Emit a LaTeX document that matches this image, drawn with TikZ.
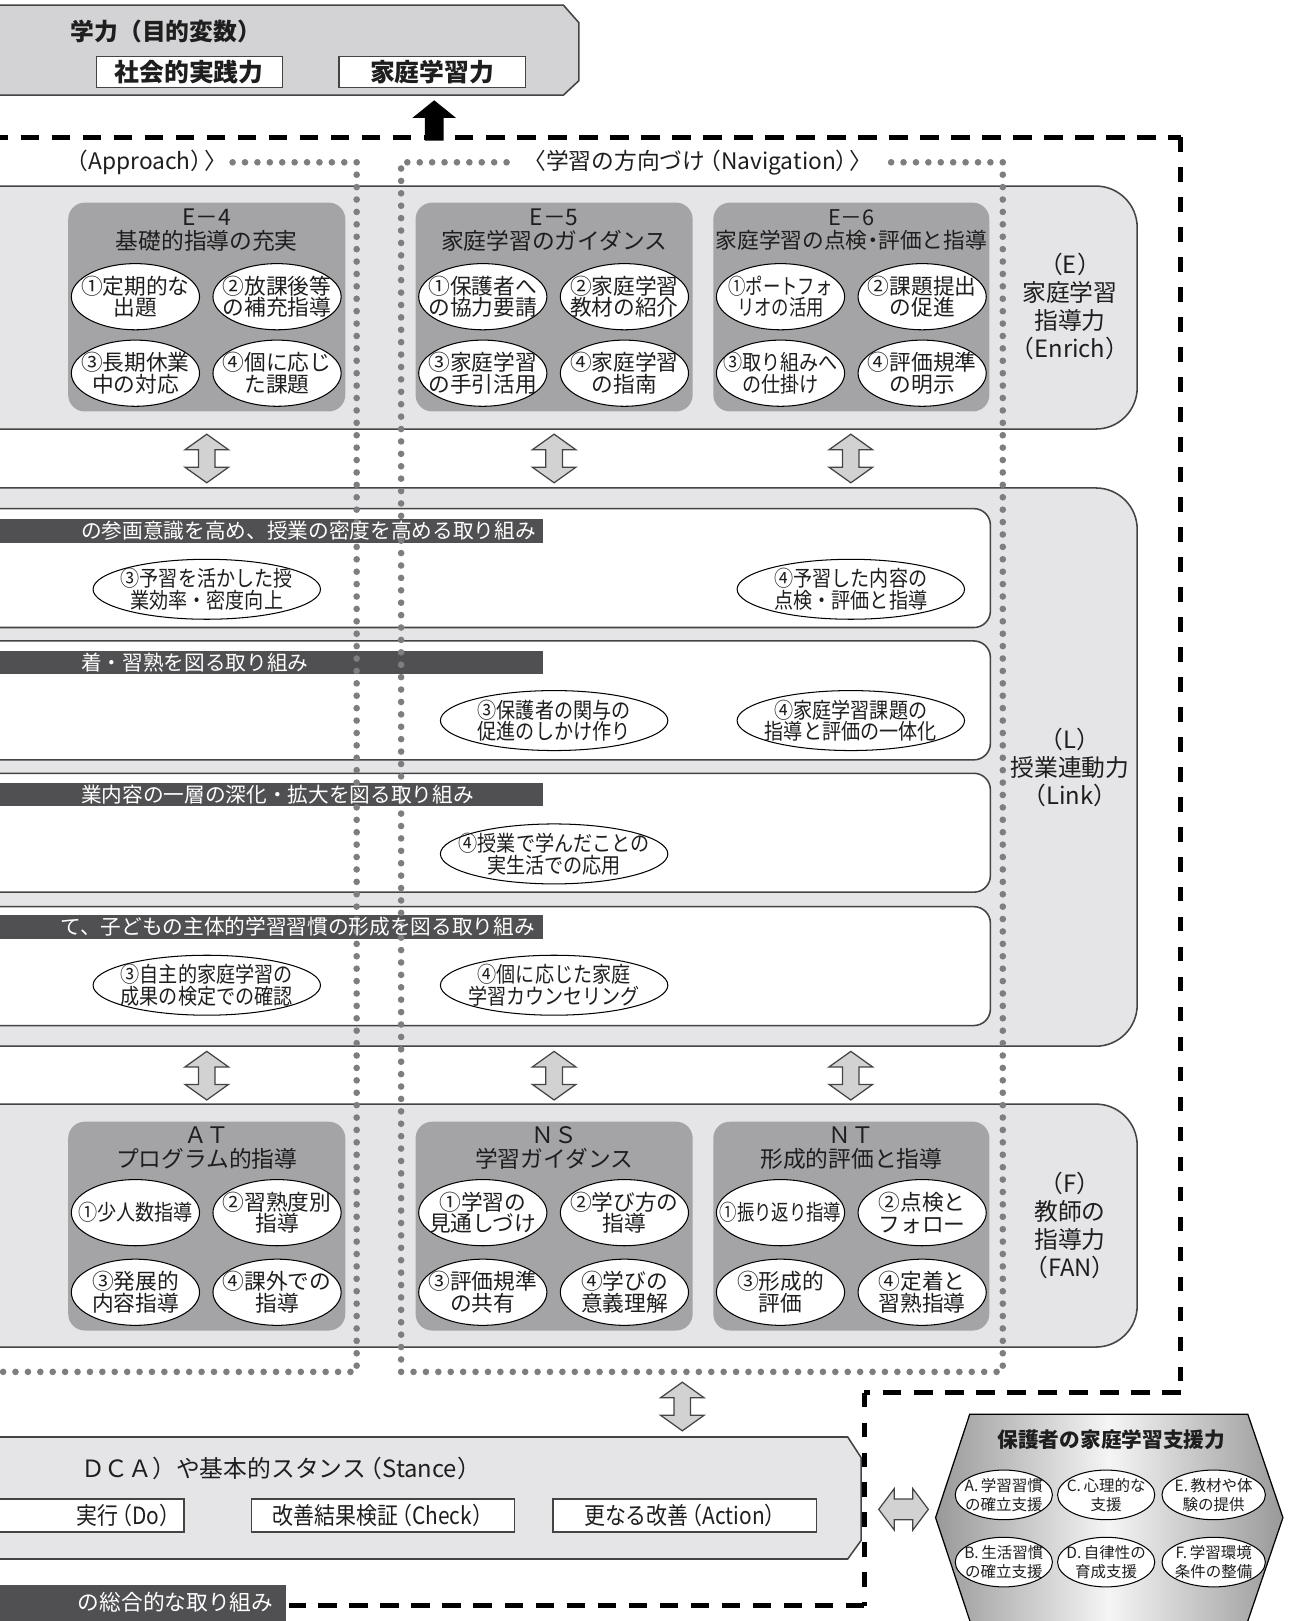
\documentclass[tikz,border=0pt]{standalone}
\usepackage{fontspec}
\setmainfont{Noto Sans CJK JP}
\newfontfamily\cond[FakeStretch=0.88]{Noto Sans CJK JP}
\newfontfamily\condb[FakeStretch=0.8]{Noto Sans CJK JP}
\usetikzlibrary{shapes.geometric}
\definecolor{panel}{HTML}{E5E5E7}
\definecolor{topfill}{HTML}{D3D3D5}
\definecolor{inner}{HTML}{A4A4A7}
\definecolor{barc}{HTML}{505052}
\definecolor{dotc}{HTML}{7E7E80}
\definecolor{edge}{HTML}{444444}
\definecolor{arrfill}{HTML}{D2D2D2}
\definecolor{txt}{HTML}{1E1E1E}
\tikzset{
 panelbox/.style={draw=edge, line width=0.75pt, fill=panel, rounded corners=20pt},
 innerbox/.style={fill=inner, rounded corners=8pt},
 whitebox/.style={draw=edge, line width=0.75pt, fill=white, rounded corners=8pt},
 ell/.style={ellipse, draw=black, line width=0.5pt, fill=white, inner xsep=-14pt, inner ysep=-12pt, minimum width=62pt, minimum height=32pt, align=center, font=\fontsize{10.5}{10.5}\selectfont, text=txt},
 lell/.style={ell, minimum width=110pt, minimum height=29pt, font=\cond\fontsize{10.5}{10.5}\selectfont},
 hell/.style={ell, minimum width=47pt, minimum height=24pt, font=\fontsize{7.5}{9}\selectfont},
 ttl/.style={align=center, font=\fontsize{11}{11.5}\selectfont, text=txt, inner sep=0pt},
 lab/.style={align=center, font=\fontsize{11.5}{13.5}\selectfont, text=txt, inner sep=0pt},
 bartext/.style={anchor=west, text=white, font=\fontsize{10}{10}\selectfont, inner sep=0pt},
 darr/.style={draw=edge, fill=arrfill, line width=0.6pt, line join=miter},
 dots/.style={draw=dotc, line width=3.2pt, line cap=round, dash pattern=on 0pt off 6pt},
 hdash/.style={draw=black, line width=2.6pt, dash pattern=on 9pt off 6pt},
 vdash/.style={draw=black, line width=2.6pt, dash pattern=on 7pt off 7.5pt},
 wbox/.style={draw=edge, fill=white, line width=0.6pt, inner sep=0pt, minimum height=15pt, text=txt},
 plain/.style={text=txt, inner sep=0pt}
}
\newcommand\vda[1]{\draw[darr] (#1) ++(0,-23.5) -- ++(21,15) -- ++(-13,0) -- ++(0,17) -- ++(13,0) -- ++(-21,15) -- ++(-21,-15) -- ++(13,0) -- ++(0,-17) -- ++(-13,0) -- cycle;}
\newcommand\hda[1]{\draw[darr] (#1) ++(-24,0) -- ++(15,-20) -- ++(0,10) -- ++(18,0) -- ++(0,-10) -- ++(15,20) -- ++(-15,20) -- ++(0,-10) -- ++(-18,0) -- ++(0,10) -- cycle;}
\begin{document}
\begin{tikzpicture}[x=0.5pt,y=-0.5pt]
\useasboundingbox (0,0) rectangle (1247,1568);
\clip (0,0) rectangle (1247,1568);
\fill[white] (0,0) rectangle (1247,1568);

% top box
\draw[draw=edge, line width=0.75pt, fill=topfill] (-20,5) -- (545,5) -- (560,22) -- (560,78) -- (545,92) -- (-20,92) -- cycle;
\node[plain, anchor=west, font=\bfseries\fontsize{11.5}{12}\selectfont] (gakuryoku) at (68,30) {学力（目的変数）};
\node[wbox, minimum width=90pt, font=\bfseries\fontsize{12}{12}\selectfont] (shakai) at (183,70) {社会的実践力};
\node[wbox, minimum width=90pt, font=\bfseries\fontsize{12}{12}\selectfont] (katei) at (418,70) {家庭学習力};

% dashed frame
\draw[hdash] (-10,133) -- (1142,133);
\draw[vdash] (1142,133) -- (1142,1347);
\draw[hdash] (1142,1347) -- (836,1347);
\draw[vdash] (836,1347) -- (836,1553);
\draw[hdash] (836,1553) -- (280,1553);

% black arrow
\fill[black] (420,97) -- (441,114) -- (429,114) -- (429,136) -- (411,136) -- (411,114) -- (399,114) -- cycle;

% panels
\draw[panelbox] (-40,180) rectangle (1100,415);
\draw[panelbox] (-40,472) rectangle (1100,1012);
\draw[panelbox] (-40,1068) rectangle (1100,1303);

% inner boxes E
\fill[innerbox] (66,196) rectangle (334,398);
\fill[innerbox] (402,196) rectangle (670,398);
\fill[innerbox] (690,196) rectangle (957,398);
% inner boxes F
\fill[innerbox] (66,1085) rectangle (334,1287);
\fill[innerbox] (402,1085) rectangle (670,1287);
\fill[innerbox] (690,1085) rectangle (957,1287);

% L white boxes and bars
\draw[whitebox] (-40,492) rectangle (958,607);
\draw[whitebox] (-40,620) rectangle (958,735);
\draw[whitebox] (-40,748) rectangle (958,863);
\draw[whitebox] (-40,877) rectangle (958,992);
\fill[barc] (-10,502) rectangle (525,525);
\fill[barc] (-10,630) rectangle (525,652);
\fill[barc] (-10,757) rectangle (525,780);
\fill[barc] (-10,885) rectangle (525,908);

% dotted lines
\draw[dots] (225,157) -- (345,157) -- (345,1327) -- (-10,1327);
\draw[dots] (490,157) -- (388,157) -- (388,1327) -- (970,1327) -- (970,157) -- (860,157);
\node[plain, anchor=east, font=\fontsize{11}{11}\selectfont] (appr) at (220,157) {（Approach）{\kern-0.4em}〉};
\node[plain, font=\fontsize{11}{11}\selectfont] (navi) at (675,157) {〈学習の方向づけ{\kern-0.3em}（Navigation）{\kern-0.4em}〉};

% bar texts
\node[bartext] (b1) at (78,513.5) {の参画意識を高め、授業の密度を高める取り組み};
\node[bartext] (b2) at (78,641) {着・習熟を図る取り組み};
\node[bartext] (b3) at (78,768.5) {業内容の一層の深化・拡大を図る取り組み};
\node[bartext] (b4) at (58,896.5) {て、子どもの主体的学習習慣の形成を図る取り組み};

% E titles
\node[ttl] (e4t) at (200,222.5) {E－4\\基礎的指導の充実};
\node[ttl] (e5t) at (536,222.5) {E－5\\家庭学習のガイダンス};
\node[ttl, font=\fontsize{10.5}{11.5}\selectfont] (e6t) at (823.5,222.5) {E－6\\家庭学習の点検{\kern-0.25em}・{\kern-0.25em}評価と指導};

% E ellipses
\node[ell] (e41) at (131,287) {①定期的な\\出題};
\node[ell] (e42) at (268,287) {②放課後等\\の補充指導};
\node[ell] (e43) at (131,361) {③長期休業\\中の対応};
\node[ell] (e44) at (268,361) {④個に応じ\\た課題};
\node[ell] (e51) at (467,287) {①保護者へ\\の協力要請};
\node[ell] (e52) at (604,287) {②家庭学習\\教材の紹介};
\node[ell] (e53) at (467,361) {③家庭学習\\の手引活用};
\node[ell] (e54) at (604,361) {④家庭学習\\の指南};
\node[ell, font=\condb\fontsize{10.5}{10.5}\selectfont] (e61) at (755,287) {①ポートフォ\\リオの活用};
\node[ell] (e62) at (892,287) {②課題提出\\の促進};
\node[ell, font=\cond\fontsize{10.5}{10.5}\selectfont] (e63) at (755,361) {③取り組みへ\\の仕掛け};
\node[ell] (e64) at (892,361) {④評価規準\\の明示};

% F titles
\node[ttl] (att) at (200,1110.5) {ＡＴ\\プログラム的指導};
\node[ttl] (nst) at (536,1110.5) {ＮＳ\\学習ガイダンス};
\node[ttl] (ntt) at (823.5,1110.5) {ＮＴ\\形成的評価と指導};

% F ellipses
\node[ell, font=\cond\fontsize{10.5}{10.5}\selectfont] (at1) at (131,1173) {①少人数指導};
\node[ell] (at2) at (268,1173) {②習熟度別\\指導};
\node[ell] (at3) at (131,1250) {③発展的\\内容指導};
\node[ell] (at4) at (268,1250) {④課外での\\指導};
\node[ell] (ns1) at (467,1173) {①学習の\\見通しづけ};
\node[ell] (ns2) at (604,1173) {②学び方の\\指導};
\node[ell] (ns3) at (467,1250) {③評価規準\\の共有};
\node[ell] (ns4) at (604,1250) {④学びの\\意義理解};
\node[ell, font=\condb\fontsize{10.5}{10.5}\selectfont] (nt1) at (755,1173) {①振り返り指導};
\node[ell] (nt2) at (892,1173) {②点検と\\フォロー};
\node[ell] (nt3) at (755,1250) {③形成的\\評価};
\node[ell] (nt4) at (892,1250) {④定着と\\習熟指導};

% L ellipses
\node[lell] (l13) at (200,570) {③予習を活かした授\\業効率・密度向上};
\node[lell] (l14) at (823,570) {④予習した内容の\\点検・評価と指導};
\node[lell] (l23) at (536,697) {③保護者の関与の\\促進のしかけ作り};
\node[lell] (l24) at (823,697) {④家庭学習課題の\\指導と評価の一体化};
\node[lell] (l34) at (536,826) {④授業で学んだことの\\実生活での応用};
\node[lell] (l43) at (200,953) {③自主的家庭学習の\\成果の検定での確認};
\node[lell] (l44) at (536,953) {④個に応じた家庭\\学習カウンセリング};

% right labels
\node[lab] (elab) at (1035,296.5) {（E）\\家庭学習\\指導力\\（Enrich）};
\node[lab] (llab) at (1035,742) {（L）\\授業連動力\\（Link）};
\node[lab] (flab) at (1035,1185.5) {（F）\\教師の\\指導力\\（FAN）};

% double arrows
\coordinate (da1) at (200,443.5);
\coordinate (da2) at (536,443.5);
\coordinate (da3) at (823,443.5);
\coordinate (da4) at (200,1040.5);
\coordinate (da5) at (536,1040.5);
\coordinate (da6) at (823,1040.5);
\coordinate (da7) at (660,1360.5);
\coordinate (da8) at (874,1460);
\vda{da1}\vda{da2}\vda{da3}\vda{da4}\vda{da5}\vda{da6}\vda{da7}
\hda{da8}

% stance box
\draw[draw=edge, line width=0.75pt, fill=panel] (-20,1390) -- (820,1390) -- (833,1410) -- (833,1490) -- (820,1508) -- (-20,1508) -- cycle;
\node[plain, anchor=west, font=\fontsize{11.5}{12}\selectfont] (stance) at (78,1420) {ＤＣＡ）や基本的スタンス{\kern-0.3em}（Stance）};
\draw[draw=edge, fill=white, line width=0.6pt] (-20,1450) rectangle (178,1482);
\node[plain, anchor=east, font=\cond\fontsize{11.5}{12}\selectfont] (do) at (175,1466) {実行{\kern-0.3em}（Do）};
\node[wbox, minimum width=127.5pt, minimum height=16pt, font=\cond\fontsize{11.5}{12}\selectfont] (check) at (370.5,1466) {改善結果検証{\kern-0.3em}（Check）};
\node[wbox, minimum width=127.5pt, minimum height=16pt, font=\cond\fontsize{11.5}{12}\selectfont] (action) at (662.5,1466) {更なる改善{\kern-0.3em}（Action）};

% bottom bar
\fill[barc] (-10,1533) rectangle (277,1590);
\node[bartext, font=\fontsize{10.5}{10.5}\selectfont] (sogo) at (75,1550) {の総合的な取り組み};

% hexagon
\draw[draw=black, line width=0.6pt, left color=gray!80, right color=gray!80, middle color=gray!8]
  (938,1368) -- (1207,1368) -- (1241,1468) -- (1199.5,1590) -- (945.5,1590) -- (905,1468) -- cycle;
\node[plain, font=\bfseries\fontsize{10}{10}\selectfont] (hogo) at (1075,1393) {保護者の家庭学習支援力};
\node[hell] (ha) at (971,1446) {A.\,学習習慣\\の確立支援};
\node[hell] (hc) at (1070,1446) {C.\,心理的な\\支援};
\node[hell, minimum width=50pt] (he) at (1174,1446) {E.\,教材や体\\験の提供};
\node[hell] (hb) at (971,1511) {B.\,生活習慣\\の確立支援};
\node[hell] (hd) at (1070,1511) {D.\,自律性の\\育成支援};
\node[hell, minimum width=50pt] (hf) at (1174,1511) {F.\,学習環境\\条件の整備};
\end{tikzpicture}
\end{document}
